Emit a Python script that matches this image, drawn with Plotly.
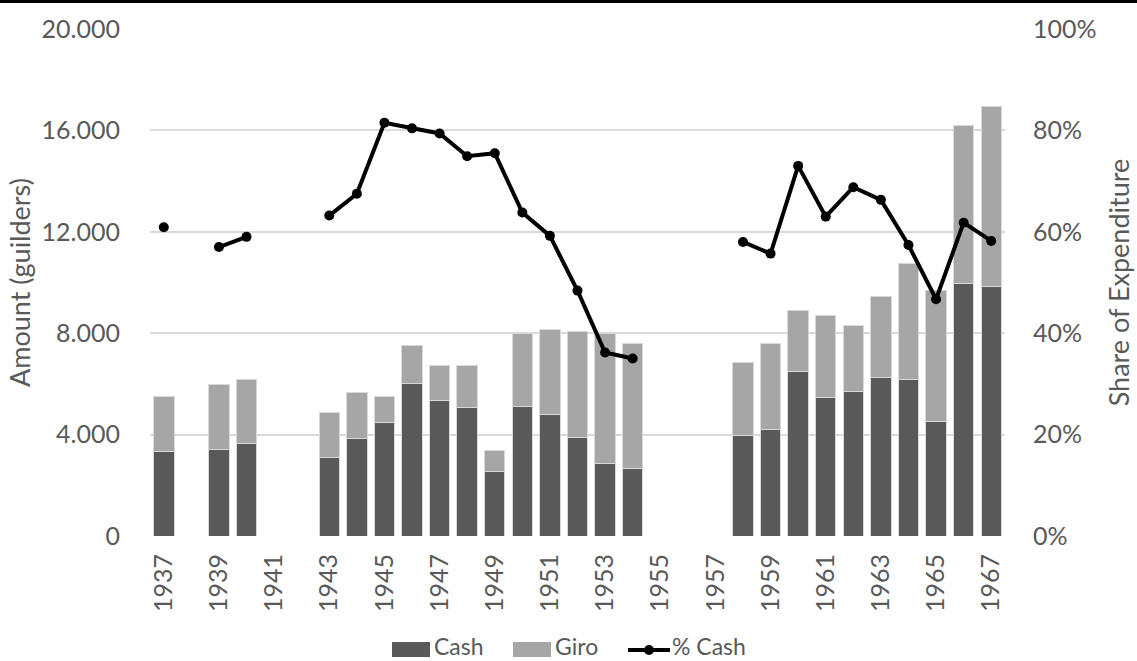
import plotly.graph_objects as go

# Yearly expenditure split by payment method (guilders) and the cash share
years = list(range(1937, 1968))

cash = [3350, None, 3420, 3660, None, None, 3100, 3840, 4470, 6020,
        5360, 5050, 2550, 5090, 4810, 3890, 2870, 2670, None, None,
        None, 3960, 4220, 6490, 5470, 5710, 6250, 6170, 4520, 9980, 9860]

total = [5520, None, 5980, 6190, None, None, 4890, 5670, 5520, 7500,
         6720, 6720, 3360, 7970, 8130, 8050, 7970, 7610, None, None,
         None, 6840, 7600, 8890, 8690, 8310, 9430, 10730, 9680, 16190, 16960]

pct_cash = [60.9, None, 57.0, 59.0, None, None, 63.2, 67.5, 81.5, 80.4,
            79.4, 74.9, 75.5, 63.8, 59.2, 48.4, 36.2, 35.0, None, None,
            None, 58.0, 55.7, 73.0, 63.0, 68.8, 66.3, 57.4, 46.7, 61.8, 58.2]

giro = [None if t is None else t - c for t, c in zip(total, cash)]

left_ticks = [0, 4000, 8000, 12000, 16000, 20000]
left_labels = ["0", "4.000", "8.000", "12.000", "16.000", "20.000"]
right_ticks = [0, 20, 40, 60, 80, 100]
right_labels = [f"{v}%" for v in right_ticks]
year_ticks = list(range(1937, 1968, 2))

FONT = "Lato"
GREY_TEXT = "#595959"
TICK_FS = 25
TITLE_FS = 27
LEG_FS = 23
CASH_COL = "#595959"
GIRO_COL = "#a6a6a6"
EDGE_COL = "#d9d9d9"

W, H = 1137, 661
ML, MR, MT, MB = 150, 132, 29, 125
PW, PH = W - ML - MR, H - MT - MB


def px_x(px):
    return (px - ML) / PW


def px_y(py):
    return (H - MB - py) / PH


fig = go.Figure()
fig.add_trace(go.Bar(
    x=years, y=cash, name="Cash",
    marker=dict(color=CASH_COL, line=dict(color=EDGE_COL, width=1)),
))
fig.add_trace(go.Bar(
    x=years, y=giro, name="Giro",
    marker=dict(color=GIRO_COL, line=dict(color=EDGE_COL, width=1)),
))
fig.add_trace(go.Scatter(
    x=years, y=pct_cash, name="% Cash", yaxis="y2",
    mode="lines+markers", connectgaps=False,
    line=dict(color="#000000", width=4),
    marker=dict(color="#000000", size=10),
))

fig.update_layout(
    width=W, height=H,
    margin=dict(l=ML, r=MR, t=MT, b=MB),
    paper_bgcolor="white", plot_bgcolor="white",
    barmode="stack", bargap=0.26,
    font=dict(family=FONT, size=TICK_FS, color=GREY_TEXT),
    showlegend=False,
    xaxis=dict(
        range=[1936.5, 1967.5], tickmode="array", tickvals=year_ticks,
        ticktext=[str(y) for y in year_ticks], tickangle=-90,
        showgrid=False, zeroline=False, showline=False, automargin=False,
        ticks="outside", ticklen=7, tickcolor="rgba(0,0,0,0)",
        tickfont=dict(family=FONT, size=TICK_FS, color=GREY_TEXT),
    ),
    yaxis=dict(
        range=[0, 20000], tickmode="array", tickvals=left_ticks, ticktext=left_labels,
        showgrid=True, gridcolor=EDGE_COL, gridwidth=1.5,
        zeroline=False, showline=False, automargin=False,
        ticks="outside", ticklen=24, tickcolor="rgba(0,0,0,0)",
        tickfont=dict(family=FONT, size=TICK_FS, color=GREY_TEXT),
        title=dict(text="Amount (guilders)", standoff=3,
                   font=dict(family=FONT, size=TITLE_FS, color=GREY_TEXT)),
    ),
    yaxis2=dict(
        range=[0, 100], overlaying="y", side="right",
        tickmode="array", tickvals=right_ticks, ticktext=right_labels,
        showgrid=False, zeroline=False, showline=False, automargin=False,
        ticks="outside", ticklen=22, tickcolor="rgba(0,0,0,0)",
        tickfont=dict(family=FONT, size=TICK_FS, color=GREY_TEXT),
        title=dict(text="Share of Expenditure", standoff=14,
                   font=dict(family=FONT, size=TITLE_FS, color=GREY_TEXT)),
    ),
)

# legend drawn by hand: wide swatches for the bars, line-with-dot for the share
legend_y = 650
shapes = [
    dict(type="rect", x0=px_x(392), x1=px_x(430), y0=px_y(657), y1=px_y(642),
         fillcolor=CASH_COL, line=dict(width=0)),
    dict(type="rect", x0=px_x(513), x1=px_x(551), y0=px_y(657), y1=px_y(642),
         fillcolor=GIRO_COL, line=dict(width=0)),
    dict(type="line", x0=px_x(628), x1=px_x(670), y0=px_y(legend_y), y1=px_y(legend_y),
         line=dict(color="black", width=4)),
    dict(type="circle", x0=px_x(644), x1=px_x(654), y0=px_y(legend_y + 5), y1=px_y(legend_y - 5),
         fillcolor="black", line=dict(width=0)),
    # thin black rule along the top edge of the figure
    dict(type="rect", x0=-0.3, x1=1.3, y0=px_y(3), y1=px_y(0),
         fillcolor="black", line=dict(width=0)),
]
for s in shapes:
    s.update(xref="paper", yref="paper", layer="above")
    fig.add_shape(**s)

# legend labels sit flush with the bottom edge so nothing is clipped
for label, x_left in [("Cash", 433), ("Giro", 554), ("% Cash", 671)]:
    fig.add_annotation(
        x=px_x(x_left), y=px_y(H), xref="paper", yref="paper",
        text=label, showarrow=False, xanchor="left", yanchor="bottom",
        borderpad=0,
        font=dict(family=FONT, size=LEG_FS, color=GREY_TEXT),
    )

fig.write_html("out.html")
